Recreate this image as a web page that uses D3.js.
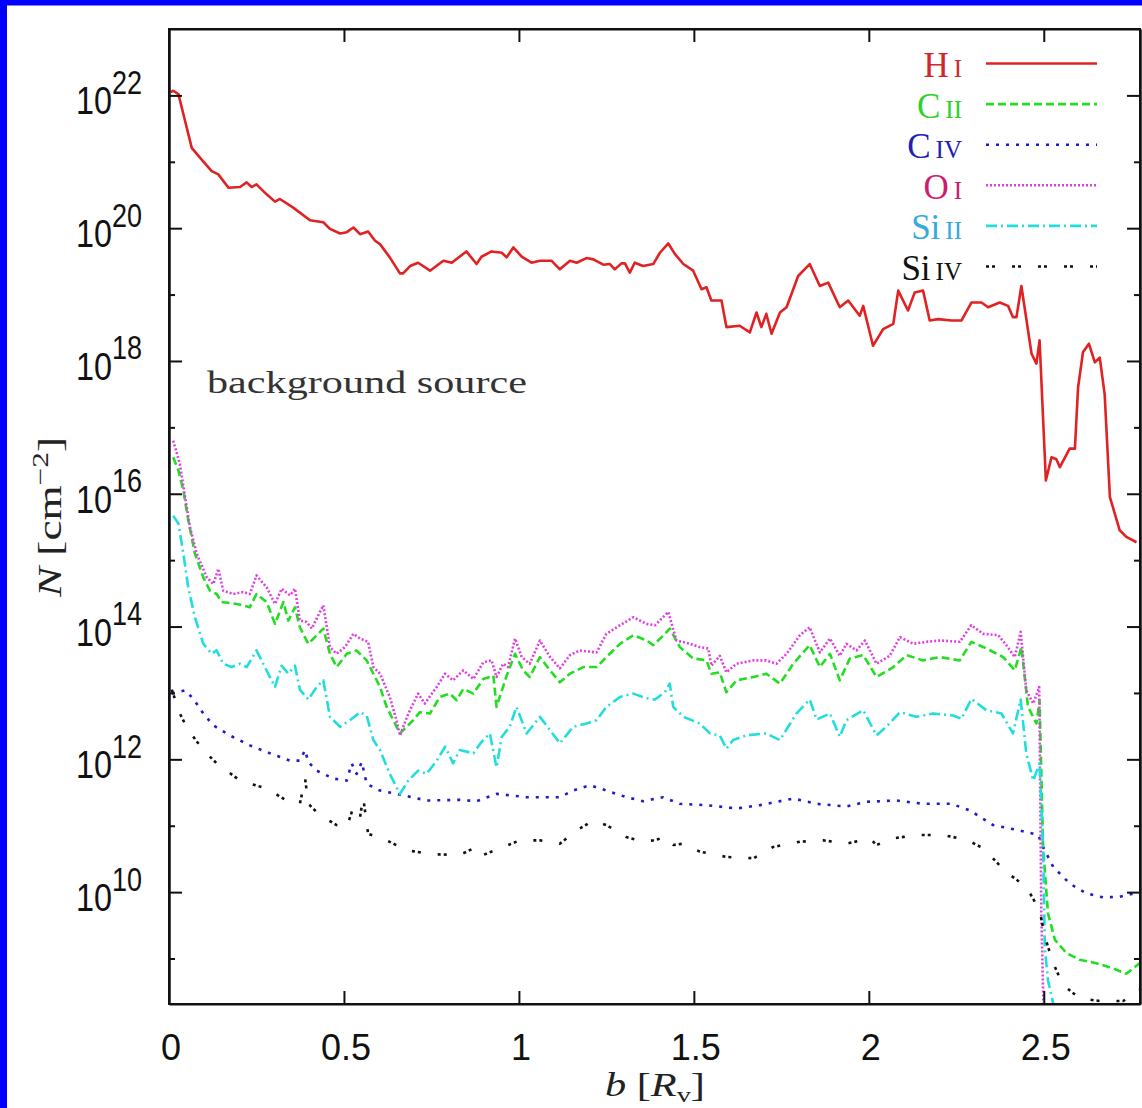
<!DOCTYPE html>
<html><head><meta charset="utf-8">
<script src="https://cdn.jsdelivr.net/npm/d3@7"></script>
<style>body{margin:0;background:#fff}svg{display:block}</style>
</head><body><svg id="c" width="1142" height="1108"></svg>
<script>
// ---- data: [b (R_v), log10 N (cm^-2)] ----
const HI = [[0.005,22.05],[0.012,22.07],[0.027,22.02],[0.041,21.72],[0.065,21.21],[0.089,21.06],[0.122,20.86],[0.141,20.81],[0.17,20.61],[0.203,20.62],[0.222,20.69],[0.236,20.62],[0.25,20.66],[0.279,20.51],[0.303,20.40],[0.317,20.44],[0.355,20.31],[0.403,20.12],[0.441,20.09],[0.46,19.99],[0.489,19.92],[0.508,19.94],[0.527,20.01],[0.546,19.91],[0.569,19.95],[0.589,19.81],[0.603,19.76],[0.631,19.56],[0.66,19.32],[0.669,19.32],[0.689,19.43],[0.712,19.48],[0.746,19.36],[0.784,19.51],[0.808,19.48],[0.85,19.65],[0.879,19.46],[0.893,19.57],[0.922,19.65],[0.951,19.63],[0.965,19.56],[0.984,19.71],[1.008,19.57],[1.036,19.48],[1.06,19.51],[1.093,19.51],[1.117,19.38],[1.146,19.51],[1.165,19.48],[1.193,19.55],[1.213,19.53],[1.241,19.45],[1.26,19.46],[1.274,19.38],[1.293,19.47],[1.303,19.47],[1.317,19.33],[1.331,19.48],[1.355,19.43],[1.384,19.46],[1.403,19.63],[1.427,19.77],[1.446,19.61],[1.47,19.46],[1.498,19.36],[1.522,19.08],[1.536,19.11],[1.55,18.91],[1.579,18.91],[1.593,18.51],[1.631,18.53],[1.66,18.43],[1.679,18.73],[1.693,18.51],[1.707,18.71],[1.722,18.41],[1.746,18.73],[1.765,18.81],[1.798,19.28],[1.831,19.46],[1.86,19.13],[1.884,19.18],[1.917,18.81],[1.941,18.91],[1.974,18.68],[1.984,18.83],[2.012,18.23],[2.041,18.48],[2.07,18.56],[2.084,19.06],[2.112,18.76],[2.131,19.03],[2.155,19.06],[2.174,18.61],[2.198,18.63],[2.236,18.61],[2.265,18.61],[2.293,18.88],[2.322,18.88],[2.341,18.81],[2.374,18.88],[2.398,18.83],[2.412,18.66],[2.422,18.66],[2.436,19.13],[2.465,18.11],[2.479,17.96],[2.488,18.31],[2.506,16.20],[2.522,16.55],[2.536,16.52],[2.546,16.40],[2.574,16.68],[2.589,16.68],[2.598,17.60],[2.612,18.13],[2.629,18.26],[2.646,17.98],[2.66,18.05],[2.674,17.50],[2.689,15.95],[2.717,15.45],[2.736,15.35],[2.765,15.27]];

const CII = [[0.012,16.55],[0.027,16.35],[0.041,16.05],[0.055,15.60],[0.074,15.10],[0.098,14.74],[0.117,14.54],[0.136,14.49],[0.15,14.37],[0.194,14.34],[0.231,14.29],[0.25,14.49],[0.279,14.37],[0.303,14.04],[0.327,14.37],[0.341,14.09],[0.36,14.29],[0.374,13.99],[0.398,13.74],[0.417,13.84],[0.441,13.97],[0.46,13.59],[0.479,13.39],[0.508,13.59],[0.536,13.64],[0.565,13.49],[0.584,13.29],[0.603,13.09],[0.622,12.79],[0.641,12.59],[0.66,12.39],[0.698,12.59],[0.717,12.71],[0.746,12.69],[0.774,12.94],[0.803,12.99],[0.822,12.89],[0.841,13.06],[0.87,12.99],[0.898,13.21],[0.927,13.26],[0.936,12.79],[0.965,13.26],[0.989,13.59],[1.012,13.34],[1.031,13.24],[1.06,13.54],[1.089,13.34],[1.117,13.16],[1.146,13.29],[1.184,13.39],[1.222,13.39],[1.25,13.54],[1.289,13.74],[1.327,13.87],[1.365,13.79],[1.384,13.72],[1.408,13.84],[1.431,13.97],[1.46,13.69],[1.498,13.52],[1.536,13.49],[1.55,13.29],[1.574,13.31],[1.593,13.01],[1.622,13.19],[1.67,13.24],[1.707,13.29],[1.746,13.14],[1.784,13.44],[1.831,13.72],[1.86,13.39],[1.889,13.59],[1.917,13.19],[1.946,13.52],[1.984,13.57],[2.022,13.24],[2.07,13.39],[2.108,13.57],[2.155,13.49],[2.203,13.54],[2.26,13.49],[2.293,13.77],[2.336,13.67],[2.384,13.54],[2.417,13.34],[2.436,13.69],[2.455,12.79],[2.479,12.54],[2.488,12.89],[2.498,10.68],[2.512,9.68],[2.532,9.28],[2.565,9.08],[2.603,8.98],[2.65,8.93],[2.698,8.85],[2.736,8.77],[2.774,8.93]];

const CIV = [[0.008,12.99],[0.046,13.04],[0.07,12.91],[0.098,12.69],[0.127,12.51],[0.174,12.36],[0.231,12.21],[0.289,12.09],[0.346,11.98],[0.374,11.98],[0.389,12.14],[0.398,11.96],[0.422,11.83],[0.47,11.71],[0.508,11.68],[0.522,11.94],[0.536,11.78],[0.551,11.96],[0.565,11.63],[0.603,11.53],[0.66,11.47],[0.736,11.38],[0.831,11.39],[0.879,11.37],[0.936,11.48],[1.022,11.43],[1.117,11.43],[1.155,11.53],[1.203,11.61],[1.25,11.53],[1.307,11.43],[1.355,11.37],[1.412,11.43],[1.46,11.33],[1.536,11.31],[1.622,11.26],[1.689,11.31],[1.784,11.41],[1.851,11.33],[1.936,11.29],[1.993,11.36],[2.079,11.38],[2.155,11.33],[2.236,11.33],[2.289,11.23],[2.355,11.01],[2.431,10.93],[2.484,10.86],[2.498,10.68],[2.527,10.38],[2.574,10.13],[2.622,9.98],[2.67,9.92],[2.717,9.93],[2.774,10.0]];

const OI = [[0.012,16.80],[0.031,16.45],[0.046,15.95],[0.06,15.50],[0.079,15.10],[0.108,14.74],[0.127,14.64],[0.141,14.87],[0.155,14.54],[0.184,14.49],[0.212,14.52],[0.231,14.49],[0.25,14.77],[0.279,14.59],[0.303,14.34],[0.322,14.57],[0.346,14.47],[0.36,14.57],[0.374,14.09],[0.393,14.07],[0.408,13.97],[0.422,14.12],[0.441,14.32],[0.46,13.69],[0.479,13.59],[0.503,13.69],[0.527,13.89],[0.546,13.82],[0.569,13.77],[0.584,13.39],[0.603,13.29],[0.631,12.94],[0.65,12.59],[0.66,12.36],[0.684,12.69],[0.712,12.99],[0.731,12.84],[0.765,13.09],[0.789,13.29],[0.812,13.19],[0.841,13.34],[0.87,13.21],[0.898,13.46],[0.922,13.49],[0.936,13.24],[0.955,13.44],[0.969,13.39],[0.989,13.82],[1.008,13.54],[1.031,13.44],[1.06,13.79],[1.089,13.54],[1.117,13.37],[1.146,13.57],[1.174,13.64],[1.222,13.61],[1.25,13.89],[1.289,14.02],[1.327,14.14],[1.365,14.04],[1.389,14.02],[1.408,14.12],[1.427,14.22],[1.45,13.79],[1.489,13.74],[1.517,13.69],[1.541,13.67],[1.55,13.41],[1.574,13.56],[1.593,13.31],[1.622,13.44],[1.67,13.49],[1.707,13.49],[1.736,13.44],[1.765,13.59],[1.803,13.87],[1.831,13.99],[1.86,13.61],[1.889,13.82],[1.917,13.56],[1.936,13.74],[1.965,13.64],[1.989,13.79],[2.022,13.44],[2.06,13.56],[2.089,13.84],[2.127,13.74],[2.165,13.77],[2.203,13.79],[2.26,13.77],[2.293,14.02],[2.327,13.89],[2.37,13.87],[2.393,13.72],[2.417,13.54],[2.434,13.92],[2.45,13.04],[2.47,12.84],[2.487,13.09],[2.493,9.68],[2.498,8.52],[2.503,7.5]];

const SiII = [[0.012,15.67],[0.027,15.55],[0.041,15.10],[0.055,14.59],[0.074,14.14],[0.098,13.74],[0.122,13.59],[0.136,13.64],[0.155,13.44],[0.179,13.39],[0.203,13.44],[0.222,13.39],[0.25,13.64],[0.274,13.39],[0.303,13.09],[0.322,13.41],[0.341,13.29],[0.36,13.41],[0.374,13.05],[0.398,12.90],[0.422,13.09],[0.441,13.19],[0.46,12.64],[0.489,12.49],[0.517,12.59],[0.546,12.71],[0.565,12.66],[0.584,12.29],[0.603,12.14],[0.631,11.78],[0.66,11.48],[0.684,11.68],[0.712,11.83],[0.736,11.78],[0.765,11.98],[0.789,12.19],[0.812,11.94],[0.831,12.14],[0.87,12.09],[0.893,12.26],[0.917,12.39],[0.936,11.88],[0.951,12.34],[0.974,12.49],[0.993,12.79],[1.022,12.39],[1.06,12.64],[1.089,12.44],[1.117,12.24],[1.155,12.49],[1.193,12.54],[1.222,12.59],[1.25,12.79],[1.289,12.94],[1.327,12.99],[1.365,12.92],[1.389,12.90],[1.417,13.01],[1.431,13.14],[1.441,12.79],[1.47,12.64],[1.517,12.54],[1.546,12.39],[1.574,12.36],[1.593,12.16],[1.612,12.29],[1.65,12.36],[1.707,12.39],[1.746,12.29],[1.793,12.69],[1.831,12.90],[1.851,12.60],[1.889,12.69],[1.917,12.34],[1.936,12.59],[1.984,12.74],[2.022,12.36],[2.05,12.49],[2.089,12.71],[2.136,12.64],[2.184,12.69],[2.241,12.66],[2.265,12.61],[2.293,12.91],[2.336,12.74],[2.379,12.69],[2.412,12.39],[2.434,12.90],[2.45,12.09],[2.47,11.68],[2.488,11.94],[2.498,10.68],[2.503,9.17],[2.512,8.67],[2.541,8.0]];

const SiIV = [[0.008,13.05],[0.031,12.69],[0.055,12.44],[0.098,12.14],[0.136,11.94],[0.203,11.68],[0.279,11.56],[0.336,11.38],[0.374,11.33],[0.389,11.71],[0.398,11.33],[0.431,11.16],[0.479,11.01],[0.508,10.98],[0.527,11.28],[0.546,11.13],[0.555,11.43],[0.569,10.88],[0.622,10.78],[0.679,10.63],[0.755,10.57],[0.831,10.56],[0.879,10.68],[0.898,10.56],[0.955,10.68],[1.003,10.78],[1.06,10.78],[1.117,10.73],[1.165,10.93],[1.213,11.08],[1.25,11.01],[1.307,10.83],[1.355,10.76],[1.384,10.78],[1.422,10.83],[1.441,10.71],[1.47,10.73],[1.517,10.61],[1.593,10.53],[1.67,10.51],[1.727,10.68],[1.803,10.76],[1.87,10.78],[1.936,10.73],[2.003,10.81],[2.022,10.71],[2.07,10.81],[2.136,10.86],[2.212,10.86],[2.279,10.79],[2.327,10.66],[2.393,10.30],[2.45,10.08],[2.488,9.73],[2.503,9.33],[2.527,8.93],[2.555,8.60],[2.603,8.40],[2.66,8.36],[2.727,8.36],[2.75,8.44],[2.774,8.53]];

const ionElements = ["H","C","C","O","Si","Si"];
const ionStages   = ["I","II","IV","I","II","IV"];
const xTicks = [0, 0.5, 1, 1.5, 2, 2.5];
const xTickLabels = ["0","0.5","1","1.5","2","2.5"];
const yMajorExp = [10, 12, 14, 16, 18, 20, 22];
const yMinorExp = [9, 11, 13, 15, 17, 19, 21];

// ---- styles ----
const series = [
  {data: HI,   line: "#e02222", text: "#d02828", dash: null},
  {data: CII,  line: "#22dd22", text: "#2ed12e", dash: "8,4"},
  {data: CIV,  line: "#1c1cc8", text: "#2020b4", dash: "3,7"},
  {data: OI,   line: "#e040e0", text: "#cc1c72", dash: "2,2"},
  {data: SiII, line: "#22dddd", text: "#36aadc", dash: "11,4,2,4"},
  {data: SiIV, line: "#111111", text: "#111111", dash: "3,3,3,17"}
];

const svg = d3.select("#c");
const L = 169, R = 1140, T = 29, B = 1004;
const x = d3.scaleLinear().domain([0, 2.775]).range([L, R]);
const y = d3.scaleLog().domain([Math.pow(10, 8.315), 1e23]).range([B, T]);

// blue frame strips
svg.append("rect").attr("x",0).attr("y",0).attr("width",7).attr("height",1108).attr("fill","#0000ff");
svg.append("rect").attr("x",0).attr("y",0).attr("width",1142).attr("height",5.5).attr("fill","#0000ff");

svg.append("defs").append("clipPath").attr("id","clip")
  .append("rect").attr("x",L).attr("y",T).attr("width",R-L).attr("height",B-T);

const line = d3.line().x(d => x(d[0])).y(d => y(Math.pow(10, d[1])));
const plot = svg.append("g").attr("clip-path","url(#clip)");
series.forEach(s => {
  plot.append("path").datum(s.data)
    .attr("d", line).attr("fill","none")
    .attr("stroke", s.line).attr("stroke-width", 2.6)
    .attr("stroke-linejoin","round")
    .attr("stroke-dasharray", s.dash);
});

// axes (inward ticks)
function styleAxis(g){ g.selectAll("path,line").attr("stroke","#111").attr("stroke-width",2); g.selectAll("text").remove(); }
const yMaj = yMajorExp.map(e => Math.pow(10,e));
const yMin = yMinorExp.map(e => Math.pow(10,e));
svg.append("g").attr("transform",`translate(${L},0)`).call(d3.axisLeft(y).tickValues(yMaj).tickSize(-13).tickSizeOuter(0)).call(styleAxis);
svg.append("g").attr("transform",`translate(${L},0)`).call(d3.axisLeft(y).tickValues(yMin).tickSize(-6).tickSizeOuter(0)).call(styleAxis);
svg.append("g").attr("transform",`translate(${R},0)`).call(d3.axisRight(y).tickValues(yMaj).tickSize(-13).tickSizeOuter(0)).call(styleAxis);
svg.append("g").attr("transform",`translate(${R},0)`).call(d3.axisRight(y).tickValues(yMin).tickSize(-6).tickSizeOuter(0)).call(styleAxis);
svg.append("g").attr("transform",`translate(0,${B})`).call(d3.axisBottom(x).tickValues(xTicks.slice(1)).tickSize(-13).tickSizeOuter(0)).call(styleAxis);
svg.append("g").attr("transform",`translate(0,${T})`).call(d3.axisTop(x).tickValues(xTicks.slice(1)).tickSize(-13).tickSizeOuter(0)).call(styleAxis);
svg.append("rect").attr("x",L).attr("y",T).attr("width",R-L).attr("height",B-T)
  .attr("fill","none").attr("stroke","#111").attr("stroke-width",2);

// y tick labels 10^n
const sans = "'Liberation Sans', Arial, Helvetica, sans-serif";
const serif = "'Liberation Serif', 'Times New Roman', serif";
yMajorExp.forEach(e => {
  const yy = y(Math.pow(10,e));
  const t = svg.append("text").attr("transform",`translate(142,${yy+19}) scale(0.9,1.08)`).attr("text-anchor","end")
    .attr("font-family",sans).attr("font-size",36).attr("fill","#111");
  t.append("tspan").text("10");
  t.append("tspan").attr("dy",-19).attr("font-size",30).text(String(e));
});
// x tick labels
xTicks.forEach((v,i) => {
  svg.append("text").attr("x",x(v)+2).attr("y",1060).attr("text-anchor","middle")
    .attr("font-family",sans).attr("font-size",36).attr("fill","#111").text(xTickLabels[i]);
});

// axis titles
const xt = svg.append("text").attr("x",655).attr("y",1096).attr("text-anchor","middle")
  .attr("font-family",serif).attr("font-size",33).attr("fill","#222")
  .attr("textLength",100).attr("lengthAdjust","spacingAndGlyphs");
xt.append("tspan").attr("font-style","italic").text("b");
xt.append("tspan").text(" [");
xt.append("tspan").attr("font-style","italic").text("R");
xt.append("tspan").attr("font-size",22).attr("dy",6).text("v");
xt.append("tspan").attr("dy",-6).text("]");

const yt = svg.append("text").attr("transform","translate(61,517) rotate(-90)").attr("text-anchor","middle")
  .attr("font-family",serif).attr("font-size",33).attr("fill","#222")
  .attr("textLength",160).attr("lengthAdjust","spacingAndGlyphs");
yt.append("tspan").attr("font-style","italic").text("N");
yt.append("tspan").text(" [cm");
yt.append("tspan").attr("font-size",23).attr("dy",-13).text("−2");
yt.append("tspan").attr("dy",13).text("]");

// annotation
svg.append("text").attr("x",207).attr("y",393).attr("font-family",serif).attr("font-size",31)
  .attr("fill","#333").attr("textLength",320).attr("lengthAdjust","spacingAndGlyphs").text("background source");

// legend
series.forEach((s,i) => {
  const ly = 63.5 + i*40.6;
  const t = svg.append("text").attr("x",962).attr("y",ly+13.5).attr("text-anchor","end")
    .attr("font-family",serif).attr("fill",s.text);
  t.append("tspan").attr("font-size",35).text(ionElements[i]);
  t.append("tspan").attr("font-size",25).attr("dx",5).text(ionStages[i]);
  svg.append("line").attr("x1",986).attr("x2",1097).attr("y1",ly).attr("y2",ly)
    .attr("stroke",s.line).attr("stroke-width",2.6).attr("stroke-dasharray",s.dash);
});
</script></body></html>
